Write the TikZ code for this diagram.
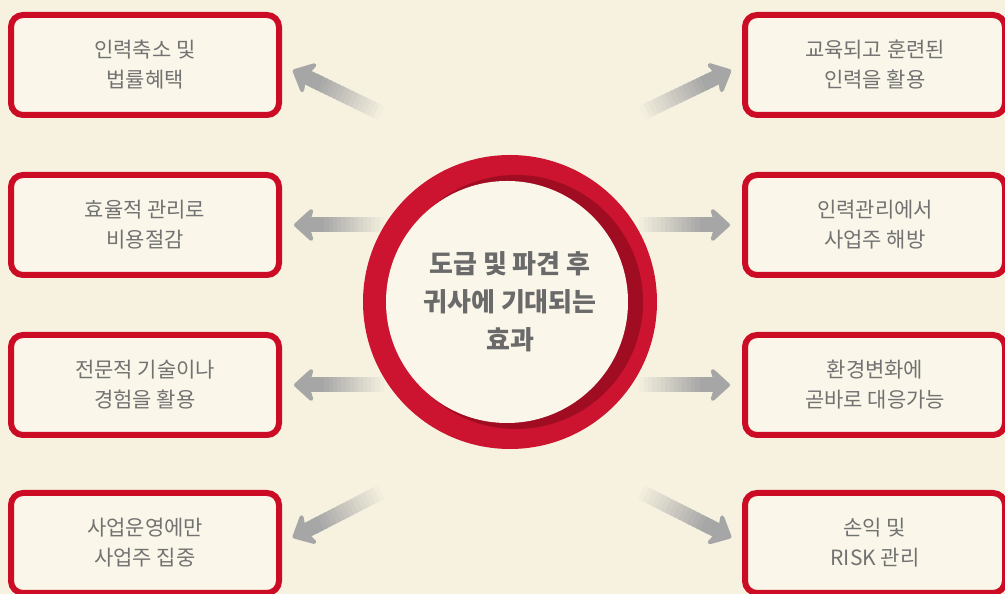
\documentclass[tikz,border=0pt]{standalone}
\usepackage{fontspec}
\newfontfamily\kofont{Noto Sans CJK KR}
\usetikzlibrary{arrows.meta,calc}

\definecolor{bgcream}{HTML}{F7F2E0}
\definecolor{boxcream}{HTML}{FAF6E9}
\definecolor{boxred}{HTML}{CC0C24}
\definecolor{ringred}{HTML}{CC1430}
\definecolor{ringdark}{HTML}{A00C22}
\definecolor{arrowgray}{HTML}{A6A6A6}
\definecolor{txtgray}{HTML}{727272}
\definecolor{midgray}{HTML}{6A6A6A}

\tikzset{
  effbox/.style={draw=boxred, line width=6pt, fill=boxcream, rounded corners=12pt,
    minimum height=100pt, align=center, text=txtgray,
    font=\kofont\fontsize{21}{30}\selectfont},
  effring/.style={circle, fill=ringred, minimum size=294pt, inner sep=0pt,
    align=center, text=midgray, font=\kofont\bfseries\fontsize{26}{38}\selectfont,
    path picture={
      \fill[ringdark] ([xshift=6pt]path picture bounding box.center) circle (127pt);
      \fill[boxcream] ([xshift=-3pt]path picture bounding box.center) circle (121pt);
    }},
  shaft/.style={line width=15pt, line cap=butt, arrowgray}
}

\begin{document}
\begin{tikzpicture}[x=1pt,y=1pt]
  \fill[bgcream] (0,0) rectangle (1005,594);
  \useasboundingbox (0,0) rectangle (1005,594);

  % left column
  \node[effbox, minimum width=268pt] (b1) at (145,529) {인력축소 및\\법률혜택};
  \node[effbox, minimum width=268pt] (b2) at (145,369) {효율적 관리로\\비용절감};
  \node[effbox, minimum width=268pt] (b3) at (145,209) {전문적 기술이나\\경험을 활용};
  \node[effbox, minimum width=268pt] (b4) at (145,51) {사업운영에만\\사업주 집중};

  % right column
  \node[effbox, minimum width=260pt] (b5) at (875,529) {교육되고 훈련된\\인력을 활용};
  \node[effbox, minimum width=260pt] (b6) at (875,369) {인력관리에서\\사업주 해방};
  \node[effbox, minimum width=260pt] (b7) at (875,209) {환경변화에\\곧바로 대응가능};
  \node[effbox, minimum width=260pt] (b8) at (875,51) {손익 및\\RISK 관리};

  % arrow tails near the ring
  \coordinate (t1) at (385,479);
  \coordinate (t2) at (388,369);
  \coordinate (t3) at (388,209);
  \coordinate (t4) at (385,104);
  \coordinate (t5) at (638,479);
  \coordinate (t6) at (635,369);
  \coordinate (t7) at (635,209);
  \coordinate (t8) at (637,104);

  % fading arrows
  \foreach \tail/\tgt/\sd in {t1/b1/east, t2/b2/east, t3/b3/east, t4/b4/east,
                              t5/b5/west, t6/b6/west, t7/b7/west, t8/b8/west}{
    \coordinate (tip) at ($(\tgt.\sd)!12pt!(\tail)$);
    \coordinate (neck) at ($(tip)!26pt!(\tail)$);
    \foreach \i in {0,...,15}{
      \pgfmathsetmacro\mix{100*\i/15}
      \draw[shaft, draw=arrowgray!\mix!bgcream] ($(\tail)!\i/16!(neck)$) -- ($(\tail)!{(\i+1.5)/16}!(neck)$);
    }
    \draw[shaft, -{Stealth[length=22pt,width=40pt,inset=6pt,line width=10pt,round]}] (neck) -- (tip);
  }

  % centre
  \node[effring] (eff) at (510,292) {도급 및 파견 후\\귀사에 기대되는\\효과};
\end{tikzpicture}
\end{document}
